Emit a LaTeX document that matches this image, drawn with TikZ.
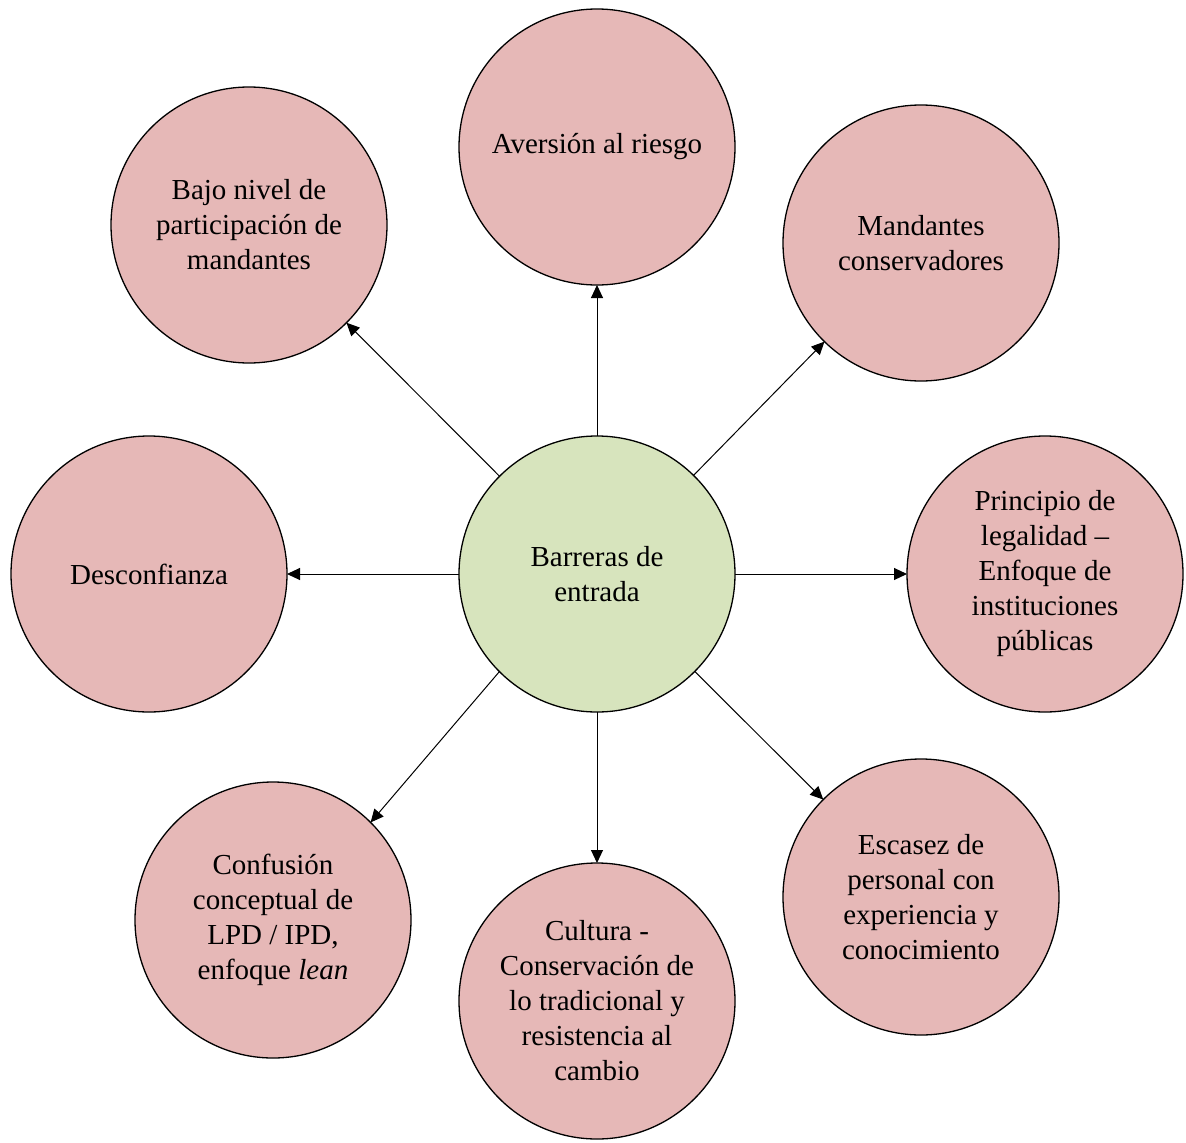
\documentclass[tikz,border=0pt]{standalone}
\usepackage{fontspec}
\setmainfont{Liberation Serif}
\usetikzlibrary{arrows.meta}
\definecolor{pinkfill}{HTML}{E6B8B7}
\definecolor{greenfill}{HTML}{D7E4BD}
\begin{document}
\begin{tikzpicture}[x=1pt,y=-1pt,
  bubble/.style={circle,draw=black,line width=1.3pt,fill=pinkfill,minimum size=276pt,inner sep=0pt,outer sep=0pt,align=center,font=\fontsize{29}{35}\selectfont},
  hub/.style={bubble,fill=greenfill},
  link/.style={-{Triangle[length=13pt,width=12pt]},line width=1pt,black}]
\useasboundingbox (0,0) rectangle (1186,1143);
\node[hub] (c) at (597,574) {Barreras de\\entrada};
\node[bubble] (t) at (597,147) {Aversión al riesgo};
\node[bubble] (tl) at (249,225) {Bajo nivel de\\participación de\\mandantes};
\node[bubble] (tr) at (921,243) {Mandantes\\conservadores};
\node[bubble] (l) at (149,574) {Desconfianza};
\node[bubble] (r) at (1045,574) {Principio de\\legalidad --\\Enfoque de\\instituciones\\públicas};
\node[bubble] (bl) at (273,920) {Confusión\\conceptual de\\LPD / IPD,\\enfoque \textit{lean}};
\node[bubble] (b) at (597,1001) {Cultura -\\Conservación de\\lo tradicional y\\resistencia al\\cambio};
\node[bubble] (br) at (921,897) {Escasez de\\personal con\\experiencia y\\conocimiento};
\foreach \n in {t,tl,tr,l,r,b,br}{\draw[link] (c) -- (\n);}
\draw[link] (c.225) -- (bl.45);
\end{tikzpicture}
\end{document}
